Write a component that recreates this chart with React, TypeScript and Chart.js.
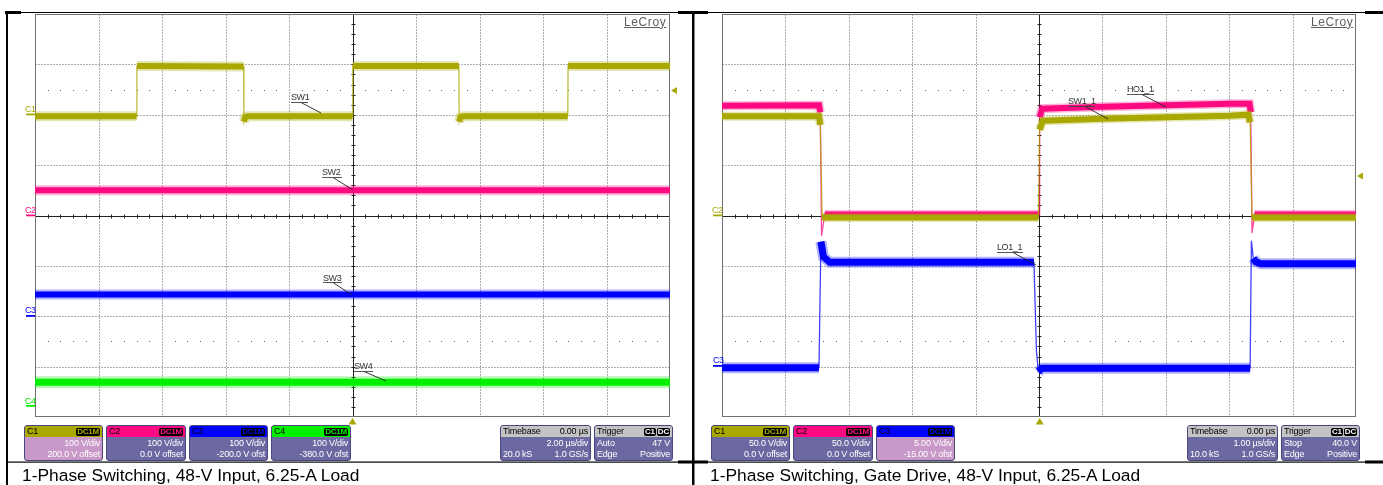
import React, { useEffect, useRef } from "react";
import { Chart, registerables } from "chart.js";

Chart.register(...registerables);

// ---------------- Data (time in µs, level in screen divisions, 0 = centre) ----------------
// Left capture: 2.00 µs/div
const leftC1Time = [-10, -6.8, -6.79, -3.43, -3.42, -3.38, -3.3, 0, 0.01, 3.35, 3.36, 3.4, 3.48, 6.78, 6.79, 10];
const leftC1Level = [1.97, 1.97, 2.97, 2.96, 1.86, 1.95, 1.97, 1.97, 2.97, 2.97, 1.86, 1.95, 1.97, 1.97, 2.97, 2.97];
const leftC2Time = [-10, 0, 10];
const leftC2Level = [0.5, 0.5, 0.5];
const leftC3Time = [-10, 0, 10];
const leftC3Level = [-1.57, -1.57, -1.57];
const leftC4Time = [-10, 0, 10];
const leftC4Level = [-3.31, -3.31, -3.31];

// Right capture: 1.00 µs/div
const rightSwTime = [-5, -3.47, -3.45, -3.42, -0.01, 0.01, 0.06, 1.0, 2.0, 3.0, 3.3, 3.33, 3.36, 5];
const rightSwLevel = [1.97, 1.97, 1.8, -0.04, -0.04, 1.7, 1.88, 1.92, 1.95, 1.98, 2.0, 1.85, -0.04, -0.04];
const rightHoTime = [-5, -3.47, -3.45, -3.43, -3.38, 0.0, 0.01, 0.05, 1.0, 2.0, 3.0, 3.32, 3.34, 3.36, 3.4, 5];
const rightHoLevel = [2.18, 2.19, 2.05, -0.4, 0.02, 0.02, 1.95, 2.12, 2.16, 2.19, 2.22, 2.22, 2.05, -0.35, 0.02, 0.02];
const rightLoTime = [-5, -3.47, -3.44, -3.4, -3.3, -0.08, -0.04, -0.01, 0.05, 3.33, 3.35, 3.38, 3.42, 3.5, 5];
const rightLoLevel = [-3.02, -3.02, -0.52, -0.82, -0.93, -0.93, -2.7, -3.1, -3.03, -3.03, -0.5, -0.85, -0.92, -0.96, -0.96];

const OLIVE = "#A9A800";
const PINK = "#FF0A82";
const BLUE = "#0000FF";
const GREEN = "#00F000";
const FONT = '"Liberation Sans", Arial, Helvetica, sans-serif';

type Trace = { time: number[]; level: number[]; color: string; core: number; fringe: number };

function toPoints(t: number[], v: number[]) {
  return t.map((x, i) => ({ x, y: v[i] }));
}

// plateau-only copy: breaks the line on steep edges
function bandPoints(t: number[], v: number[]) {
  const out: { x: number; y: number | null }[] = [];
  for (let i = 0; i < t.length; i++) {
    if (i > 0) {
      const dt = t[i] - t[i - 1];
      const dv = Math.abs(v[i] - v[i - 1]);
      if (dv > 0.3 && dt < 0.1) out.push({ x: (t[i] + t[i - 1]) / 2, y: null });
    }
    out.push({ x: t[i], y: v[i] });
  }
  return out;
}

function withAlpha(hex: string, a: number) {
  const n = parseInt(hex.slice(1), 16);
  return `rgba(${(n >> 16) & 255},${(n >> 8) & 255},${n & 255},${a})`;
}

const scopeGrid = {
  id: "scopeGrid",
  beforeDatasetsDraw(chart: any, _args: any, opts: any) {
    const { ctx, chartArea: a, scales } = chart;
    const x = scales.x;
    const y = scales.y;
    const step = opts.xStep as number;
    const L = Math.round(a.left) + 0.5;
    const R = Math.round(a.right) - 0.5;
    const T = Math.round(a.top) + 0.5;
    const B = Math.round(a.bottom) - 0.5;
    const line = (x1: number, y1: number, x2: number, y2: number) => {
      ctx.beginPath();
      ctx.moveTo(x1, y1);
      ctx.lineTo(x2, y2);
      ctx.stroke();
    };
    ctx.save();
    ctx.lineWidth = 1;
    ctx.strokeStyle = "#5a5a5a";
    ctx.setLineDash([1, 2]);
    for (let v = x.min + step; v < x.max - 1e-6; v += step) {
      if (Math.abs(v) < 1e-6) continue;
      const px = Math.round(x.getPixelForValue(v)) + 0.5;
      line(px, T, px, B);
    }
    for (let v = y.min + 1; v < y.max - 1e-6; v += 1) {
      if (Math.abs(v) < 1e-6) continue;
      const py = Math.round(y.getPixelForValue(v)) + 0.5;
      line(L, py, R, py);
    }
    ctx.setLineDash([]);
    // sparse dotted rows at ±2.5 div
    ctx.fillStyle = "#666";
    for (const row of [2.5, -2.5]) {
      const py = Math.round(y.getPixelForValue(row));
      for (let k = 1; k < 50; k++) {
        if (k % 5 === 0) continue;
        const px = Math.round(x.getPixelForValue(x.min + (k * step) / 5));
        ctx.fillRect(px, py, 1, 1);
      }
    }
    // centre axes with minor ticks
    ctx.strokeStyle = "#222";
    const cx = Math.round(x.getPixelForValue(0)) + 0.5;
    const cy = Math.round(y.getPixelForValue(0)) + 0.5;
    line(L, cy, R, cy);
    line(cx, T, cx, B);
    for (let k = 1; k < 50; k++) {
      const px = Math.round(x.getPixelForValue(x.min + (k * step) / 5)) + 0.5;
      line(px, cy - 2, px, cy + 2);
    }
    for (let k = 1; k < 40; k++) {
      const py = Math.round(y.getPixelForValue(y.min + k / 5)) + 0.5;
      line(cx - 2, py, cx + 2, py);
    }
    // frame
    ctx.strokeStyle = "#707070";
    ctx.strokeRect(L, T, R - L, B - T);
    ctx.restore();
  },
};

function ScopeChart(props: {
  left: number;
  top: number;
  width: number;
  height: number;
  xMin: number;
  xMax: number;
  xStep: number;
  traces: Trace[];
}) {
  const ref = useRef<HTMLCanvasElement>(null);
  useEffect(() => {
    const datasets: any[] = [];
    for (const tr of props.traces) {
      datasets.push({
        data: toPoints(tr.time, tr.level),
        borderColor: withAlpha(tr.color, 0.75),
        borderWidth: 1.3,
        pointRadius: 0,
        tension: 0,
        fill: false,
      });
      datasets.push({
        data: bandPoints(tr.time, tr.level),
        borderColor: withAlpha(tr.color, 0.3),
        borderWidth: tr.fringe,
        pointRadius: 0,
        tension: 0,
        fill: false,
        spanGaps: false,
      });
      datasets.push({
        data: bandPoints(tr.time, tr.level),
        borderColor: tr.color,
        borderWidth: tr.core,
        pointRadius: 0,
        tension: 0,
        fill: false,
        spanGaps: false,
      });
    }
    const chart = new Chart(ref.current!, {
      type: "line",
      data: { datasets },
      options: {
        animation: false,
        responsive: false,
        devicePixelRatio: 1,
        layout: { padding: { left: 25, right: 15, top: 4, bottom: 8 } },
        scales: {
          x: { type: "linear", min: props.xMin, max: props.xMax, display: false },
          y: { type: "linear", min: -4, max: 4, display: false },
        },
        plugins: {
          legend: { display: false },
          tooltip: { enabled: false },
          scopeGrid: { xStep: props.xStep },
        } as any,
      },
      plugins: [scopeGrid as any],
    });
    return () => chart.destroy();
  }, []);
  return (
    <canvas
      ref={ref}
      width={props.width}
      height={props.height}
      style={{ position: "absolute", left: props.left, top: props.top, width: props.width, height: props.height }}
    />
  );
}

type Row = [string, string];

function Badge(props: { text: string; color: string; left?: number }) {
  return (
    <span
      style={{
        background: "#000",
        color: props.color,
        fontSize: 8,
        fontWeight: "bold",
        lineHeight: "8px",
        padding: "0 1px",
        borderRadius: 2,
        marginLeft: props.left ?? 0,
        height: 8,
        display: "inline-block",
      }}
    >
      {props.text}
    </span>
  );
}

function InfoBox(props: {
  left: number;
  width: number;
  head: string;
  headBg: string;
  headRight: React.ReactNode;
  bodyBg: string;
  rows: Row[];
}) {
  return (
    <div
      style={{
        position: "absolute",
        left: props.left,
        top: 425,
        width: props.width,
        height: 36,
        boxSizing: "border-box",
        border: "1px solid #4a467e",
        borderRadius: 3,
        overflow: "hidden",
        background: props.bodyBg,
        fontFamily: FONT,
        fontSize: 9,
        color: "#fff",
      }}
    >
      <div
        style={{
          height: 11,
          background: props.headBg,
          color: "#000",
          lineHeight: "11px",
          padding: "0 2px",
          display: "flex",
          justifyContent: "space-between",
          alignItems: "center",
          letterSpacing: -0.2,
        }}
      >
        <span>{props.head}</span>
        <span style={{ display: "flex", alignItems: "center" }}>{props.headRight}</span>
      </div>
      <div style={{ paddingTop: 1 }}>
        {props.rows.map((r, i) => (
          <div
            key={i}
            style={{ height: 11, lineHeight: "11px", padding: "0 2px", display: "flex", justifyContent: "space-between", letterSpacing: -0.2 }}
          >
            <span>{r[0]}</span>
            <span>{r[1]}</span>
          </div>
        ))}
      </div>
    </div>
  );
}

const BODY = "#6C68A2";
const SELECTED = "#C898C8";
const HEADGRAY = "#C4C4C4";

function Label(props: { x: number; y: number; text: string; color?: string; size?: number }) {
  return (
    <div
      style={{
        position: "absolute",
        left: props.x,
        top: props.y,
        fontFamily: FONT,
        fontSize: props.size ?? 9,
        lineHeight: 1,
        color: props.color ?? "#333",
        letterSpacing: -0.4,
        whiteSpace: "nowrap",
      }}
    >
      {props.text}
    </div>
  );
}

export default function App() {
  const leftTraces: Trace[] = [
    { time: leftC1Time, level: leftC1Level, color: OLIVE, core: 6, fringe: 10 },
    { time: leftC2Time, level: leftC2Level, color: PINK, core: 6, fringe: 10 },
    { time: leftC3Time, level: leftC3Level, color: BLUE, core: 6, fringe: 10 },
    { time: leftC4Time, level: leftC4Level, color: GREEN, core: 7, fringe: 12 },
  ];
  const rightTraces: Trace[] = [
    { time: rightSwTime, level: rightSwLevel, color: OLIVE, core: 6, fringe: 9 },
    { time: rightHoTime, level: rightHoLevel, color: PINK, core: 6, fringe: 9 },
    { time: rightLoTime, level: rightLoLevel, color: BLUE, core: 7, fringe: 11 },
  ];

  const leaders: [number, number, number, number][] = [
    [301, 102.5, 321, 113],
    [333, 177.5, 353, 190],
    [333, 282.5, 352, 295],
    [364, 371.5, 386, 381],
    [1085, 106.5, 1108, 119],
    [1142, 94.5, 1166, 107],
    [1013, 252.5, 1036, 265],
  ];
  const underlines: [number, number, number][] = [
    [291, 308, 102.5],
    [322, 342, 177.5],
    [323, 342, 282.5],
    [354, 373, 371.5],
    [1068, 1095, 106.5],
    [1127, 1154, 94.5],
    [997, 1023, 252.5],
  ];

  return (
    <div style={{ position: "fixed", left: 0, top: 0, width: 1383, height: 485, background: "#fff", overflow: "hidden" }}>
      <ScopeChart left={10} top={10} width={675} height={415} xMin={-10} xMax={10} xStep={2} traces={leftTraces} />
      <ScopeChart left={697} top={10} width={674} height={415} xMin={-5} xMax={5} xStep={1} traces={rightTraces} />

      <svg width={1383} height={485} style={{ position: "absolute", left: 0, top: 0, pointerEvents: "none" }}>
        {/* table borders */}
        <rect x={5} y={12} width={1378} height={1} fill="#000" />
        <rect x={5} y={11} width={16} height={3} fill="#000" />
        <rect x={678} y={11} width={30} height={3} fill="#000" />
        <rect x={1365} y={11} width={18} height={3} fill="#000" />
        <rect x={6} y={11} width={2} height={474} fill="#000" />
        <rect x={692} y={11} width={2.5} height={474} fill="#000" />
        <rect x={6} y={461.5} width={1377} height={1.2} fill="#000" />
        <rect x={678} y={460.5} width={30} height={3} fill="#000" />
        <rect x={1365} y={460.5} width={18} height={3} fill="#000" />
        {/* leaders */}
        {leaders.map((l, i) => (
          <line key={"l" + i} x1={l[0]} y1={l[1]} x2={l[2]} y2={l[3]} stroke="#222" strokeWidth={0.9} />
        ))}
        {underlines.map((u, i) => (
          <line key={"u" + i} x1={u[0]} y1={u[2]} x2={u[1]} y2={u[2]} stroke="#444" strokeWidth={0.9} />
        ))}
        {/* ground markers */}
        <rect x={26} y={113.5} width={9} height={1.8} fill={OLIVE} />
        <rect x={26} y={214.5} width={9} height={1.8} fill={PINK} />
        <rect x={26} y={315} width={9} height={1.8} fill={BLUE} />
        <rect x={26} y={405} width={9} height={1.8} fill={GREEN} />
        <rect x={713} y={214.5} width={9} height={1.8} fill={OLIVE} />
        <rect x={713} y={365} width={9} height={1.8} fill={BLUE} />
        {/* trigger markers */}
        <polygon points="671,90.5 677,87 677,94" fill={OLIVE} />
        <polygon points="352.5,418 348.5,424.5 356.5,424.5" fill={OLIVE} />
        <polygon points="1357,176 1363,172.5 1363,179.5" fill={OLIVE} />
        <polygon points="1039.7,418 1035.7,424.5 1043.7,424.5" fill={OLIVE} />
      </svg>

      {/* channel labels */}
      <Label x={25} y={105} text="C1" color={OLIVE} />
      <Label x={25} y={206} text="C2" color={PINK} />
      <Label x={25} y={306} text="C3" color={BLUE} />
      <Label x={25} y={397} text="C4" color={GREEN} />
      <Label x={712} y={206} text="C2" color={OLIVE} />
      <Label x={713} y={356} text="C3" color={BLUE} />

      {/* annotations */}
      <Label x={291} y={93} text="SW1" />
      <Label x={322} y={168} text="SW2" />
      <Label x={323} y={274} text="SW3" />
      <Label x={354} y={362} text="SW4" />
      <Label x={1068} y={97} text="SW1_1" />
      <Label x={1127} y={85} text="HO1_1" />
      <Label x={997} y={243} text="LO1_1" />

      {/* logo */}
      {[624, 1311].map((x) => (
        <div
          key={x}
          style={{
            position: "absolute",
            left: x,
            top: 15.5,
            fontFamily: FONT,
            fontSize: 12,
            lineHeight: 1,
            color: "#5e5e5e",
            letterSpacing: 0.6,
            textDecoration: "underline",
          }}
        >
          LeCroy
        </div>
      ))}

      {/* info bars — left */}
      <InfoBox left={24} width={79} head="C1" headBg={OLIVE} headRight={<Badge text="DC1M" color={OLIVE} />} bodyBg={SELECTED} rows={[["", "100 V/div"], ["", "200.0 V offset"]]} />
      <InfoBox left={106} width={80} head="C2" headBg={PINK} headRight={<Badge text="DC1M" color={PINK} />} bodyBg={BODY} rows={[["", "100 V/div"], ["", "0.0 V offset"]]} />
      <InfoBox left={189} width={79} head="C3" headBg={BLUE} headRight={<Badge text="DC1M" color={BLUE} />} bodyBg={BODY} rows={[["", "100 V/div"], ["", "-200.0 V ofst"]]} />
      <InfoBox left={271} width={80} head="C4" headBg={GREEN} headRight={<Badge text="DC1M" color={GREEN} />} bodyBg={BODY} rows={[["", "100 V/div"], ["", "-380.0 V ofst"]]} />
      <InfoBox left={500} width={91} head="Timebase" headBg={HEADGRAY} headRight={<span>0.00 µs</span>} bodyBg={BODY} rows={[["", "2.00 µs/div"], ["20.0 kS", "1.0 GS/s"]]} />
      <InfoBox
        left={594}
        width={79}
        head="Trigger"
        headBg={HEADGRAY}
        headRight={
          <>
            <Badge text="C1" color="#fff" />
            <Badge text="DC" color="#fff" left={1} />
          </>
        }
        bodyBg={BODY}
        rows={[["Auto", "47 V"], ["Edge", "Positive"]]}
      />

      {/* info bars — right */}
      <InfoBox left={711} width={79} head="C1" headBg={OLIVE} headRight={<Badge text="DC1M" color={OLIVE} />} bodyBg={BODY} rows={[["", "50.0 V/div"], ["", "0.0 V offset"]]} />
      <InfoBox left={793} width={80} head="C2" headBg={PINK} headRight={<Badge text="DC1M" color={PINK} />} bodyBg={BODY} rows={[["", "50.0 V/div"], ["", "0.0 V offset"]]} />
      <InfoBox left={876} width={79} head="C3" headBg={BLUE} headRight={<Badge text="DC1M" color={BLUE} />} bodyBg={SELECTED} rows={[["", "5.00 V/div"], ["", "-15.00 V ofst"]]} />
      <InfoBox left={1187} width={91} head="Timebase" headBg={HEADGRAY} headRight={<span>0.00 µs</span>} bodyBg={BODY} rows={[["", "1.00 µs/div"], ["10.0 kS", "1.0 GS/s"]]} />
      <InfoBox
        left={1281}
        width={79}
        head="Trigger"
        headBg={HEADGRAY}
        headRight={
          <>
            <Badge text="C1" color="#fff" />
            <Badge text="DC" color="#fff" left={1} />
          </>
        }
        bodyBg={BODY}
        rows={[["Stop", "40.0 V"], ["Edge", "Positive"]]}
      />

      {/* captions */}
      <div style={{ position: "absolute", left: 22, top: 466.8, fontFamily: FONT, fontSize: 17.4, lineHeight: 1, color: "#000", whiteSpace: "nowrap" }}>
        1-Phase Switching, 48-V Input, 6.25-A Load
      </div>
      <div style={{ position: "absolute", left: 710, top: 466.8, fontFamily: FONT, fontSize: 17.4, lineHeight: 1, color: "#000", whiteSpace: "nowrap" }}>
        1-Phase Switching, Gate Drive, 48-V Input, 6.25-A Load
      </div>
    </div>
  );
}
